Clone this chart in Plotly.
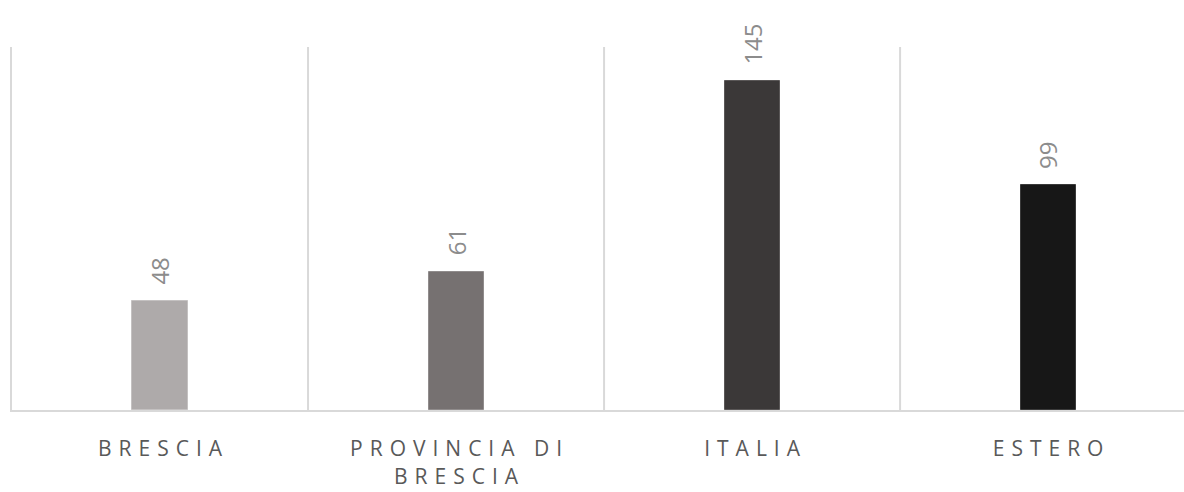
import plotly.graph_objects as go

categories = ["BRESCIA", "PROVINCIA DI<br>BRESCIA", "ITALIA", "ESTERO"]
values = [48, 61, 145, 99]
bar_colors = ["#aeaaaa", "#767171", "#3b3838", "#171717"]
edge_colors = ["#c4c1c1", "#908c8c", "#5a5757", "#3a3a3a"]

SP = "\u2004"


def spaced(label):
    return "<br>".join(SP.join(list(l)) for l in label.split("<br>"))


tick_text = [spaced(c) for c in categories]
x_pos = list(range(len(categories)))

fig = go.Figure()
fig.add_trace(go.Bar(
    x=x_pos,
    y=values,
    width=0.186,
    marker=dict(color=bar_colors, line=dict(color=edge_colors, width=1)),
    hoverinfo="skip",
))

for xi, v in zip(x_pos, values):
    fig.add_annotation(
        x=xi, y=v, text=str(v), showarrow=False, textangle=-90,
        yanchor="bottom", yshift=14,
        font=dict(family="Open Sans", size=24, color="#8c8c8c"),
    )

fig.update_layout(
    width=1184, height=492,
    margin=dict(l=12, r=0, t=47, b=82),
    plot_bgcolor="white", paper_bgcolor="white",
    showlegend=False,
    bargap=0,
)
fig.update_xaxes(
    tickmode="array", tickvals=x_pos, ticktext=tick_text,
    range=[-0.5, 3.459],
    showgrid=False,
    showline=True, linecolor="#d9d9d9", linewidth=2,
    ticks="", tickfont=dict(family="Open Sans", size=21, color="#595959"),
    ticklabelstandoff=19,
    zeroline=False,
)
fig.update_yaxes(
    range=[0, 160], showticklabels=False, showgrid=False, zeroline=False,
    showline=True, linecolor="#d9d9d9", linewidth=2,
)

for b in [0.5, 1.5, 2.5]:
    fig.add_shape(type="line", xref="x", yref="paper", x0=b, x1=b, y0=0, y1=1,
                  line=dict(color="#d9d9d9", width=2), layer="below")

fig.write_html("out.html")
